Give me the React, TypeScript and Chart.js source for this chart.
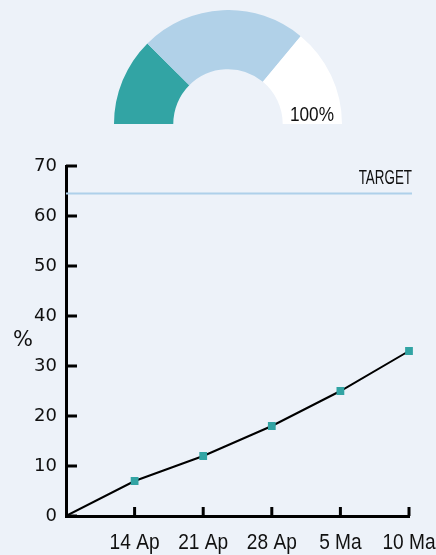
import React, { useEffect, useRef } from 'react';
import { Chart, registerables } from 'chart.js';

Chart.register(...registerables);

// ---- data ----
const gaugeLabels = ['Achieved', 'Expected', 'Remaining'];
const gaugeValues = [25, 47, 28];
const gaugeColors = ['#32a4a4', '#b1d1e8', '#ffffff'];
const gaugeText = '100%';

const categories = ['', '14 Ap', '21 Ap', '28 Ap', '5 Ma', '10 Ma'];
const progressValues = [0, 7, 12, 18, 25, 33];
const yMin = 0;
const yMax = 70;
const yStep = 10;
const targetValue = 64.5;
const targetLabel = 'TARGET';
const yTitle = '%';

const BG = '#edf2f9';
const TEAL = '#32a4a4';
const SANS = '"Liberation Sans", Arial, sans-serif';
const REG = '"DejaVu Sans", sans-serif';

function drawNarrow(
  ctx: CanvasRenderingContext2D,
  text: string,
  x: number,
  y: number,
  size: number,
  scaleX: number,
  align: CanvasTextAlign
) {
  ctx.save();
  ctx.font = `${size}px ${SANS}`;
  ctx.fillStyle = '#111';
  ctx.textAlign = align;
  ctx.textBaseline = 'alphabetic';
  ctx.translate(x, y);
  ctx.scale(scaleX, 1);
  ctx.fillText(text, 0, 0);
  ctx.restore();
}

function GaugeChart() {
  const ref = useRef<HTMLCanvasElement>(null);
  useEffect(() => {
    const textPlugin = {
      id: 'gaugeText',
      afterDraw(chart: any) {
        drawNarrow(chart.ctx, gaugeText, 220, 111, 20.5, 0.84, 'right');
      },
    };
    const chart = new Chart(ref.current!, {
      type: 'doughnut',
      data: {
        labels: gaugeLabels,
        datasets: [
          {
            data: gaugeValues,
            backgroundColor: gaugeColors,
            borderWidth: 0,
          },
        ],
      },
      options: {
        animation: false,
        responsive: true,
        maintainAspectRatio: false,
        circumference: 180,
        rotation: -90,
        cutout: '48%',
        layout: { padding: 0 },
        plugins: { legend: { display: false }, tooltip: { enabled: false } },
      },
      plugins: [textPlugin],
    });
    return () => chart.destroy();
  }, []);
  return (
    <div style={{ position: 'absolute', left: 114, top: 10, width: 228, height: 114 }}>
      <canvas ref={ref} />
    </div>
  );
}

function LineChart() {
  const ref = useRef<HTMLCanvasElement>(null);
  useEffect(() => {
    const decor = {
      id: 'decor',
      beforeDatasetsDraw(chart: any) {
        const { ctx, chartArea } = chart;
        const ys = chart.scales.y;
        const y = ys.getPixelForValue(targetValue);
        ctx.save();
        ctx.strokeStyle = '#aed0ea';
        ctx.lineWidth = 2;
        ctx.beginPath();
        ctx.moveTo(chartArea.left, y);
        ctx.lineTo(chartArea.right + 3, y);
        ctx.stroke();
        ctx.restore();
      },
      afterDraw(chart: any) {
        const { ctx, chartArea } = chart;
        const ys = chart.scales.y;
        const xs = chart.scales.x;
        ctx.save();
        ctx.strokeStyle = '#000';
        ctx.lineWidth = 3;
        ys.ticks.forEach((t: any) => {
          const y = ys.getPixelForValue(t.value);
          ctx.beginPath();
          ctx.moveTo(chartArea.left, y);
          ctx.lineTo(chartArea.left + 11, y);
          ctx.stroke();
        });
        for (let i = 1; i < categories.length; i++) {
          const x = xs.getPixelForValue(i);
          ctx.beginPath();
          ctx.moveTo(x, chartArea.bottom);
          ctx.lineTo(x, chartArea.bottom - 9);
          ctx.stroke();
          drawNarrow(ctx, categories[i], x, chartArea.bottom + 32.5, 22.5, 0.85, 'center');
        }
        // target label
        const ty = ys.getPixelForValue(targetValue);
        drawNarrow(ctx, targetLabel, chartArea.right + 3, ty - 10, 20, 0.67, 'right');
        // y title
        ctx.fillStyle = '#111';
        ctx.font = `21px ${REG}`;
        ctx.textAlign = 'center';
        ctx.textBaseline = 'middle';
        ctx.fillText(yTitle, 23, (chartArea.top + chartArea.bottom) / 2);
        ctx.restore();
      },
    };
    const chart = new Chart(ref.current!, {
      type: 'line',
      data: {
        labels: categories,
        datasets: [
          {
            data: progressValues,
            borderColor: '#000',
            borderWidth: 2,
            tension: 0,
            pointStyle: 'rect',
            pointRadius: progressValues.map((_, i) => (i === 0 ? 0 : 5.5)),
            pointBackgroundColor: TEAL,
            pointBorderWidth: 0,
            pointBorderColor: TEAL,
          },
        ],
      },
      options: {
        animation: false,
        responsive: true,
        maintainAspectRatio: false,
        layout: { padding: { top: 166, right: 27, left: 0, bottom: 0 } },
        plugins: { legend: { display: false }, tooltip: { enabled: false } },
        scales: {
          x: {
            type: 'category',
            offset: false,
            grid: { display: false, drawTicks: false },
            border: { display: true, color: '#000', width: 3 },
            ticks: { display: false },
            afterFit: (s: any) => {
              s.height = 39;
            },
          },
          y: {
            min: yMin,
            max: yMax,
            grid: { display: false, drawTicks: false },
            border: { display: true, color: '#000', width: 3 },
            ticks: {
              stepSize: yStep,
              color: '#111',
              font: { family: REG, size: 18 },
              padding: 9,
            },
            afterFit: (s: any) => {
              s.width = 66;
            },
          },
        },
      },
      plugins: [decor],
    });
    return () => chart.destroy();
  }, []);
  return (
    <div style={{ position: 'absolute', left: 0, top: 0, width: 436, height: 555 }}>
      <canvas ref={ref} />
    </div>
  );
}

export default function App() {
  return (
    <div style={{ position: 'fixed', left: 0, top: 0, width: 436, height: 555, background: BG, overflow: 'hidden' }}>
      <LineChart />
      <GaugeChart />
    </div>
  );
}
